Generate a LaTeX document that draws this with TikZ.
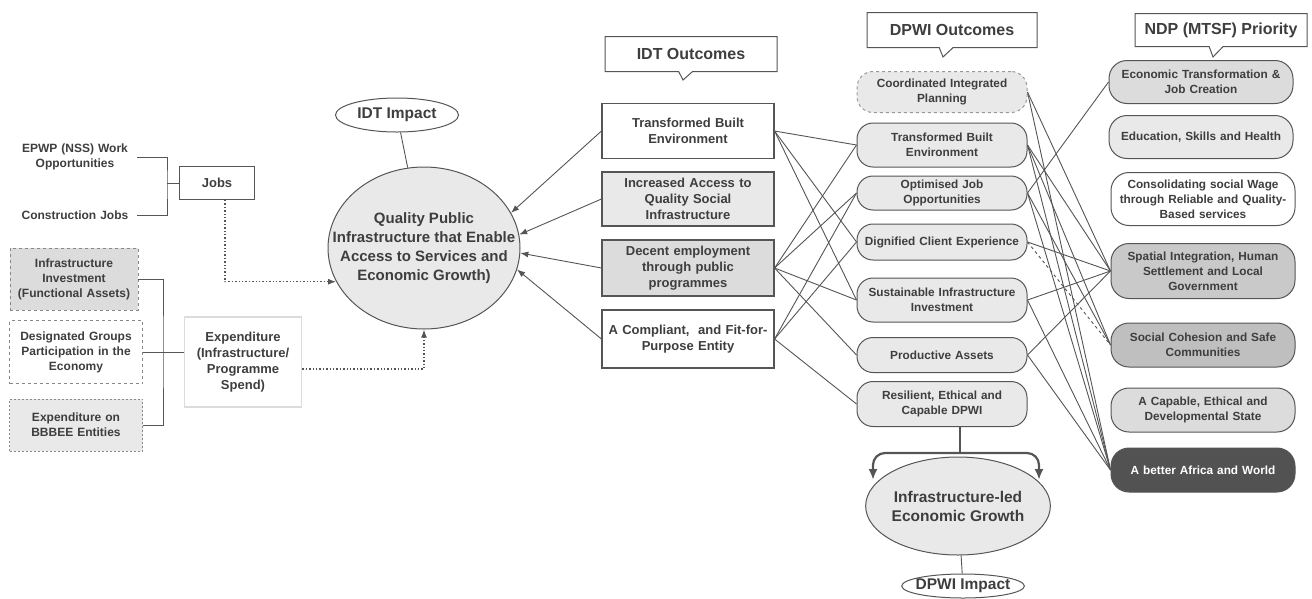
\documentclass[tikz,border=0pt]{standalone}
\usepackage{fontspec}
\setmainfont{Liberation Sans}
\usepackage{tikz}
\usetikzlibrary{positioning,shapes,shapes.callouts,arrows.meta}
\definecolor{myline}{RGB}{85,85,85}
\definecolor{mytext}{RGB}{62,62,62}
\definecolor{mylight}{RGB}{233,233,233}
\definecolor{mymid}{RGB}{220,220,220}
\definecolor{mydark}{RGB}{82,82,82}

\begin{document}
\begin{tikzpicture}[x=1pt,y=-1pt,
        every node/.style={align=center,text=mytext,font=\bfseries},
        link/.style={draw=myline,line width=0.9pt},
        dotlink/.style={draw=myline,line width=1.4pt,dotted},
        forkarrow/.style={draw=myline,line width=2.2pt,rounded corners=12pt,-{Latex[length=11pt,width=9pt]}},
        >={Latex[length=8pt,width=6pt]},
        plaintext/.style={text width=116pt,inner xsep=4pt,font=\bfseries\fontsize{12}{15}\selectfont},
        leftbox/.style={draw=myline!70,dashed,line width=0.8pt,inner xsep=4pt,font=\bfseries\fontsize{12}{15}\selectfont},
        jobbox/.style={draw=myline,line width=1.1pt,minimum width=75pt,minimum height=33pt,font=\bfseries\fontsize{13}{16}\selectfont},
        spendbox/.style={draw=mymid,line width=1.6pt,minimum width=117pt,minimum height=90pt,font=\bfseries\fontsize{13}{16}\selectfont},
        idtbox/.style={draw=myline,line width=1.1pt,text width=166pt,inner xsep=3pt,font=\bfseries\fontsize{13}{16}\selectfont},
        dpwibox/.style={draw=myline,line width=1pt,rounded corners=16pt,fill=mylight,text width=164pt,inner xsep=3pt,font=\bfseries\fontsize{11.8}{15}\selectfont},
        ndpbox/.style={draw=myline,line width=1pt,rounded corners=18pt,text width=178pt,inner xsep=3pt,font=\bfseries\fontsize{11.8}{15}\selectfont},
        impact/.style={ellipse,draw=myline,line width=1pt,inner sep=0pt,font=\bfseries\fontsize{15.5}{19}\selectfont},
        header/.style={rectangle callout,draw=myline,line width=1pt,fill=white,callout pointer width=14pt,minimum height=35pt,font=\bfseries\fontsize{16}{19}\selectfont}
      ]
      \useasboundingbox (0,0) rectangle (1312,598);

      % jobs on the left
      \node[plaintext] (epwp) at (75,157) {EPWP (NSS) Work\\Opportunities};
      \node[plaintext] (cjobs) at (75,215) {Construction Jobs};
      \node[jobbox] (jobs) at (217,183) {Jobs};
      \coordinate (jobsjoin) at (167,183);

      % spend on the left
      \node[leftbox,fill=mymid,text width=120pt,minimum height=62pt] (infra) at (74,279) {Infrastructure\\Investment\\(Functional Assets)};
      \node[leftbox,text width=125pt,minimum height=63pt] (desig) at (76,352) {Designated Groups\\Participation in the\\Economy};
      \node[leftbox,fill=mylight,dash pattern=on 2pt off 2pt,text width=125pt,minimum height=52pt] (bbbee) at (76,425) {Expenditure on\\BBBEE Entities};
      \node[spendbox] (expend) at (243,362) {Expenditure\\(Infrastructure/\\Programme\\Spend)};
      \coordinate (spendjoin) at (163,352);

      % IDT impact
      \node[impact,fill=mylight,minimum width=192pt,minimum height=162pt,inner xsep=-26pt,font=\bfseries\fontsize{15}{19}\selectfont] (quality) at (424,248) {Quality Public\\Infrastructure that Enable\\Access to Services and\\Economic Growth)};
      \node[impact,fill=white,minimum width=123pt,minimum height=34pt] (idtimpact) at (397,115) {IDT Impact};

      % IDT outcomes
      \coordinate (idttip) at (683,80);
      \node[header,minimum width=172pt,callout absolute pointer={(idttip)}] (idthead) at (691,54) {IDT Outcomes};
      \node[idtbox,fill=white,minimum height=55pt] (idtA) at (688,131) {Transformed Built\\Environment};
      \node[idtbox,fill=mylight,minimum height=54pt] (idtB) at (688,199) {Increased Access to\\Quality Social\\Infrastructure};
      \node[idtbox,fill=mymid,minimum height=56pt] (idtC) at (688,268) {Decent employment\\through public\\programmes};
      \node[idtbox,fill=white,minimum height=58pt] (idtD) at (688,339) {A Compliant,~ and Fit-for-\\Purpose Entity};

      % DPWI outcomes
      \coordinate (dpwitip) at (943,57);
      \node[header,minimum width=170pt,callout absolute pointer={(dpwitip)}] (dpwihead) at (952,30) {DPWI Outcomes};
      \node[dpwibox,draw=myline!60,dashed,minimum height=41pt] (dA) at (942,92) {Coordinated Integrated\\Planning};
      \node[dpwibox,minimum height=44pt] (dB) at (942,145) {Transformed Built\\Environment};
      \node[dpwibox,minimum height=34pt] (dC) at (942,193) {Optimised Job\\Opportunities};
      \node[dpwibox,minimum height=36pt] (dD) at (942,242) {Dignified Client Experience};
      \node[dpwibox,minimum height=44pt] (dE) at (942,300) {Sustainable Infrastructure\\Investment};
      \node[dpwibox,minimum height=35pt] (dF) at (942,355) {Productive Assets};
      \node[dpwibox,minimum height=45pt] (dG) at (942,404) {Resilient, Ethical and\\Capable DPWI};

      % DPWI impact
      \node[impact,fill=mylight,minimum width=180pt,minimum height=98pt,inner xsep=-1pt] (growth) at (958,506) {Infrastructure-led\\Economic Growth};
      \node[impact,fill=white,minimum width=122pt,minimum height=24pt,inner xsep=-4pt] (dpwiimpact) at (963,586) {DPWI Impact};
      \coordinate (fork) at (960,453);
      \coordinate (forkL) at (873,480);
      \coordinate (forkR) at (1039,480);

      % NDP priorities
      \coordinate (ndptip) at (1213,57);
      \node[header,minimum width=172pt,minimum height=33pt,callout absolute pointer={(ndptip)}] (ndphead) at (1221,30) {NDP (MTSF) Priority};
      \node[ndpbox,fill=mymid,minimum height=43pt] (nA) at (1201,82) {Economic Transformation \&\\Job Creation};
      \node[ndpbox,fill=mylight,minimum height=43pt] (nB) at (1201,137) {Education, Skills and Health};
      \node[ndpbox,fill=white,minimum height=53pt] (nC) at (1203,199) {Consolidating social Wage\\through Reliable and Quality-\\Based services};
      \node[ndpbox,fill=black!21,minimum height=55pt] (nD) at (1203,271) {Spatial Integration, Human\\Settlement and Local\\Government};
      \node[ndpbox,fill=black!25,minimum height=44pt] (nE) at (1203,345) {Social Cohesion and Safe\\Communities};
      \node[ndpbox,fill=mymid,minimum height=44pt] (nF) at (1203,410) {A Capable, Ethical and\\Developmental State};
      \node[ndpbox,fill=mydark,text=white,minimum height=44pt] (nG) at (1203,470) {A better Africa and World};

      % the left links
      \draw[link] (epwp.east) -| (jobsjoin) |- (cjobs.east); \draw[link] (jobsjoin) -- (jobs);
      \draw[link] (infra.east) -| (spendjoin) |- (bbbee.east); \draw[link] (desig.east) -- (desig.east -| expend.west);
      \draw[dotlink,->] ([xshift=8pt]jobs.south) |- (quality.201);
      \draw[dotlink,->] ([yshift=-7pt]expend.east) -| (quality.south);
      \draw[link] (idtimpact) -- (quality);

      % IDT outcomes to the impact
      \draw[link,->] (idtA.west) -- (quality.22); \draw[link,->] (idtB.west) -- (quality.8);
      \draw[link,->] (idtC.west) -- (quality.-3); \draw[link,->] (idtD.west) -- (quality.-13);

      % IDT outcomes to DPWI outcomes
      \draw[link] (idtA.east) -- (dB.west); \draw[link] (idtA.east) -- (dD.west); \draw[link] (idtA.east) -- (dE.west);
      \draw[link] (idtC.east) -- (dB.west); \draw[link] (idtC.east) -- (dC.west); \draw[link] (idtC.east) -- (dE.west);
      \draw[link] (idtC.east) -- (dF.west); \draw[link] (idtD.east) -- (dC.west); \draw[link] (idtD.east) -- (dD.west);
      \draw[link] (idtD.east) -- (dG.west);

      % DPWI outcomes to NDP priorities
      \draw[link] (dA.east) -- (nD.west); \draw[link] (dA.east) -- (nG.west);
      \draw[link] (dB.east) -- (nD.west); \draw[link] (dB.east) -- (nE.west); \draw[link] (dB.east) -- (nG.west);
      \draw[link] (dC.east) -- (nA.west); \draw[link] (dC.east) -- (nE.west); \draw[link] (dC.east) -- (nG.west);
      \draw[link] (dD.east) -- (nD.west); \draw[link,dashed] (dD.east) -- (nE.west);
      \draw[link] (dE.east) -- (nD.west); \draw[link] (dE.east) -- (nG.west);
      \draw[link] (dF.east) -- (nD.west); \draw[link] (dF.east) -- (nG.west);

      % DPWI outcomes to the impact
      \draw[link,line width=1.3pt] (dG.south -| fork) -- (fork);
      \draw[forkarrow] (fork) -| (forkL); \draw[forkarrow] (fork) -| (forkR);
      \draw[link] (growth) -- (dpwiimpact);
\end{tikzpicture}
\end{document}
